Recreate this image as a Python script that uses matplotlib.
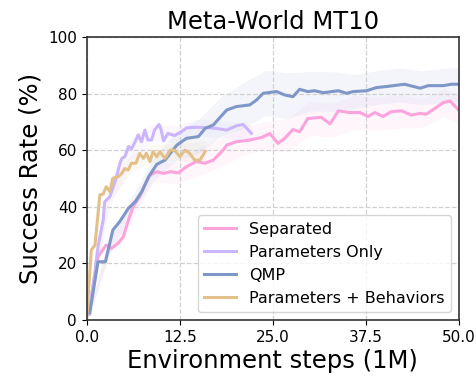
import numpy as np
import matplotlib
matplotlib.use("Agg")
import matplotlib.pyplot as plt

# ---- data ----
sep_x = [0.3, 1.0, 1.5, 2.6, 3.3, 4.2, 4.9, 5.6, 6.2, 7.1, 7.8, 8.5, 9.4, 10.3, 11.2, 12.3, 13.4,
         14.7, 15.9, 17.0, 18.3, 18.8, 20.1, 21.9, 23.5, 24.6, 25.7, 26.6, 27.7, 28.6, 29.7, 31.5,
         32.7, 33.8, 35.3, 36.7, 37.8, 38.7, 39.8, 40.9, 42.3, 43.6, 44.8, 45.6, 46.8, 47.9, 48.8, 49.9]
sep_y = [3, 15, 22.4, 26.5, 25.3, 27.1, 29.4, 35.3, 40, 43.6, 47.7, 51.2, 52.4, 51.8, 52.4, 52.0, 54.2,
         56.0, 55.4, 56.5, 60.0, 61.8, 63.0, 63.6, 64.5, 65.9, 62.4, 64.2, 67.3, 66.5, 71.2, 71.6,
         69.3, 73.9, 73.3, 73.3, 71.9, 73.3, 71.9, 73.6, 73.9, 72.4, 73.0, 72.7, 74.8, 76.8, 77.4, 74.4]
sep_band_x = [0.3, 3, 6, 9, 12, 15, 18, 21, 24, 27, 30, 33, 36, 39, 42, 45, 48, 49.9]
sep_band_w = [1, 3, 3, 3, 4, 5, 5, 5, 5, 6, 6, 6, 6, 6, 6, 5, 5, 5]

po_x = [0.3, 1.0, 1.5, 2.2, 2.4, 3.1, 3.8, 4.4, 4.7, 5.1, 5.6, 6.0, 6.5, 6.9, 7.35, 7.8, 8.2, 8.7,
        9.1, 9.7, 10.0, 10.3, 10.9, 11.8, 12.7, 13.4, 14.7, 16.1, 17.4, 18.8, 20.1, 21.0, 22.1]
po_y = [2, 15, 25.9, 35.3, 41.8, 43.6, 48.9, 54.8, 57.1, 57.7, 61.3, 60.5, 63.0, 65.4, 63.0, 67.1, 63.6, 63.6,
        67.1, 69.1, 67.1, 63.3, 65.9, 65.2, 66.5, 67.9, 68.1, 68.0, 67.7, 67.1, 68.6, 69.1, 66.0]
po_band_x = [0.3, 3, 6, 9, 12, 15, 18, 22.1]
po_band_w = [1, 4, 4, 3, 3, 3, 3, 3]

qmp_x = [0.4, 1.5, 2.5, 3.5, 4.4, 5.6, 6.5, 7.4, 8.3, 9.4, 10.5, 11.4, 12.1, 13.4, 15.0, 15.9, 17.0,
         17.6, 18.8, 20.1, 21.9, 22.8, 23.7, 25.5, 26.6, 27.7, 28.6, 29.7, 30.6, 31.8, 33.8, 34.9,
         35.8, 37.6, 38.9, 40.3, 42.7, 43.9, 44.8, 45.9, 47.9, 49.0, 49.9]
qmp_y = [2.5, 20.6, 20.6, 31.8, 34.7, 39.5, 41.8, 45.4, 50.6, 55.0, 56.5, 59.5, 61.8, 64.2, 64.8, 67.7, 68.9,
         70.7, 74.2, 75.4, 76.0, 77.7, 80.1, 80.7, 79.5, 78.9, 81.5, 80.7, 81.0, 80.3, 81.0, 80.1,
         80.7, 81.0, 82.1, 82.5, 83.3, 82.5, 81.9, 82.8, 82.8, 83.3, 83.3]
qmp_band_x = [0.4, 3, 6, 9, 12, 15, 18, 21, 24, 27, 30, 33, 36, 39, 42, 45, 48, 49.9]
qmp_band_w = [1, 3, 3, 4, 5, 6, 7, 8, 8, 8, 7, 7, 6, 6, 6, 6, 6, 6]

pb_x = [0.0, 0.6, 1.1, 1.75, 2.2, 2.6, 3.1, 3.5, 4.2, 4.7, 5.1, 5.55, 6.0, 6.6, 7.1, 7.6, 8.0, 8.5,
        8.9, 9.4, 9.8, 10.5, 11.2, 11.8, 12.5, 13.2, 13.8, 14.5, 15.2, 15.9]
pb_y = [1.2, 24.7, 26.5, 44.2, 44.5, 47.1, 45.4, 50.1, 50.6, 51.8, 53.5, 53.0, 55.4, 55.4, 58.9, 57.1, 58.9, 56.0,
        59.5, 57.7, 59.5, 57.1, 60.0, 60.0, 57.7, 60.0, 58.9, 56.5, 56.5, 59.5]
pb_band_x = [0.0, 3, 6, 9, 12, 15.9]
pb_band_w = [1, 4, 3, 3, 3, 4]

labels = ["Separated", "Parameters Only", "QMP", "Parameters + Behaviors"]
colors = ["#fda3dc", "#cbb6fd", "#7f97c8", "#e3c08a"]
xticks = [0.0, 12.5, 25.0, 37.5, 50.0]
yticks = [0, 20, 40, 60, 80, 100]

fig = plt.figure(figsize=(4.77, 3.77), dpi=100)
ax = fig.add_axes([0.182, 0.151, 0.780, 0.751])

series = [(sep_x, sep_y, sep_band_x, sep_band_w),
          (po_x, po_y, po_band_x, po_band_w),
          (qmp_x, qmp_y, qmp_band_x, qmp_band_w),
          (pb_x, pb_y, pb_band_x, pb_band_w)]

for (x, y, bx, bw), lab, c in zip(series, labels, colors):
    by = np.interp(bx, x, y)
    ax.fill_between(bx, by - np.array(bw), by + np.array(bw), color=c, alpha=0.09, lw=0)
    ax.plot(x, y, color=c, lw=2.2, label=lab)

ax.set_xlim(0, 50)
ax.set_ylim(0, 100)
ax.set_xticks(xticks)
ax.set_yticks(yticks)
ax.tick_params(labelsize=11)
ax.grid(True, ls="--", color="#d0d0d0", lw=0.9)
for s in ax.spines.values():
    s.set_color("#333333")
    s.set_linewidth(1.2)
ax.set_title("Meta-World MT10", fontsize=17.5)
ax.set_xlabel("Environment steps (1M)", fontsize=17.5, labelpad=3)
ax.set_ylabel("Success Rate (%)", fontsize=17.5)
ax.legend(loc="lower right", fontsize=11.5)

fig.savefig("out.png", dpi=100)
